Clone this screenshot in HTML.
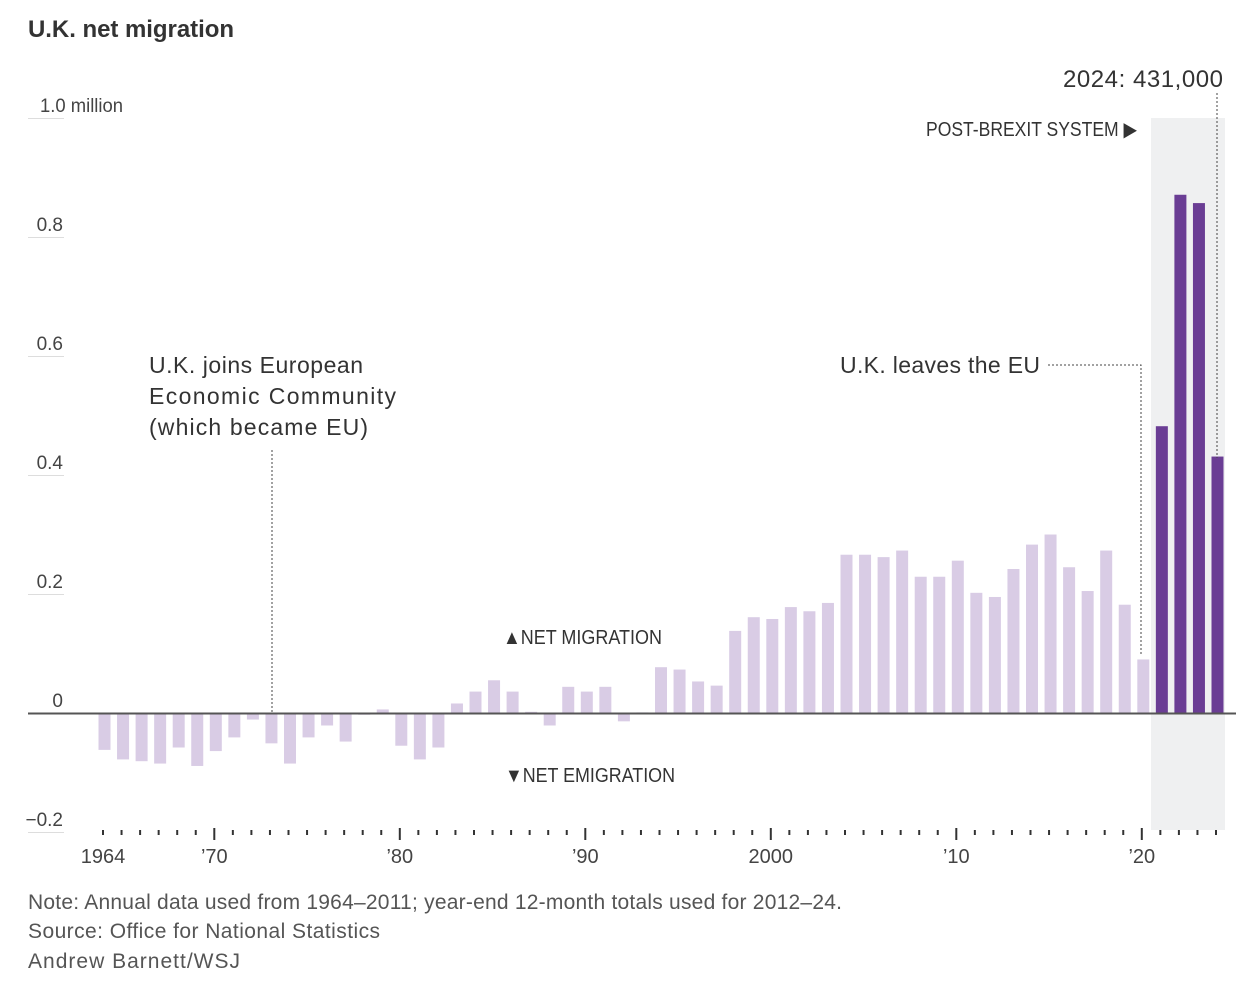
<!DOCTYPE html>
<html><head><meta charset="utf-8"><style>
body{margin:0;background:#fff;}
svg{display:block;font-family:"Liberation Sans",sans-serif;}
</style></head><body>
<svg id="c" width="1236" height="982" viewBox="0 0 1236 982">
<rect width="1236" height="982" fill="#fff"/>
<text x="28" y="37" font-size="24" font-weight="bold" fill="#333" textLength="206">U.K. net migration</text>
<rect x="1151" y="118" width="74" height="712" fill="#eff0f1"/>
<g id="yaxis"></g>
<g id="bars"></g>
<g id="xaxis"></g>
<line x1="28" y1="713.5" x2="1236" y2="713.5" stroke="#555" stroke-width="2"/>
<line x1="272" y1="450" x2="272" y2="713" stroke="#444" stroke-width="1" stroke-dasharray="2,2"/>
<text font-size="23" fill="#333"><tspan x="149" y="373" textLength="214">U.K. joins European</tspan><tspan x="149" y="404" textLength="247">Economic Community</tspan><tspan x="149" y="435" textLength="219">(which became EU)</tspan></text>
<text x="840" y="373" font-size="23" fill="#333" textLength="200">U.K. leaves the EU</text>
<polyline points="1048,365 1141,365 1141,655" fill="none" stroke="#444" stroke-width="1" stroke-dasharray="2,2"/>
<text x="926" y="136" font-size="20" fill="#333" textLength="211" lengthAdjust="spacingAndGlyphs">POST-BREXIT SYSTEM ▶</text>
<text x="1063" y="87" font-size="24" fill="#333" textLength="160">2024: 431,000</text>
<line x1="1217" y1="93" x2="1217" y2="458" stroke="#444" stroke-width="1" stroke-dasharray="2,2"/>
<text x="503" y="644" font-size="20" fill="#333" textLength="159" lengthAdjust="spacingAndGlyphs">▲NET MIGRATION</text>
<text x="505" y="782" font-size="20" fill="#333" textLength="170" lengthAdjust="spacingAndGlyphs">▼NET EMIGRATION</text>
<g font-size="21" fill="#555">
<text x="28" y="909" textLength="814">Note: Annual data used from 1964–2011; year-end 12-month totals used for 2012–24.</text>
<text x="28" y="938" textLength="352">Source: Office for National Statistics</text>
<text x="28" y="968" textLength="212">Andrew Barnett/WSJ</text>
</g>
</svg>
<script>
const startYear = 1964;
const values = [-0.062,-0.078,-0.081,-0.085,-0.058,-0.089,-0.064,-0.041,-0.011,-0.051,-0.085,-0.041,-0.021,-0.048,-0.003,0.006,-0.055,-0.078,-0.058,0.016,0.036,0.055,0.036,0.002,-0.021,0.044,0.036,0.044,-0.014,0.001,0.077,0.073,0.053,0.046,0.138,0.161,0.158,0.178,0.171,0.185,0.266,0.266,0.262,0.273,0.229,0.229,0.256,0.202,0.195,0.242,0.283,0.300,0.245,0.205,0.273,0.182,0.090,0.482,0.871,0.857,0.431];
const yTicks = [-0.2,0,0.2,0.4,0.6,0.8,1.0];
const yTickLabels = ["−0.2","0","0.2","0.4","0.6","0.8","1.0 million"];
const xLabelYears = [1964,1970,1980,1990,2000,2010,2020];
const xLabels = ["1964","’70","’80","’90","2000","’10","’20"];
const postBrexitStart = 2021;

const NS='http://www.w3.org/2000/svg';
const x = yr => 103 + (yr - 1964) * 18.55;
const y = v => 713 - v * 595;
function mk(tag, attrs, parent){const e=document.createElementNS(NS,tag);for(const k in attrs)e.setAttribute(k,attrs[k]);parent.appendChild(e);return e;}
const gy=document.getElementById('yaxis'), gb=document.getElementById('bars'), gx=document.getElementById('xaxis');
yTicks.forEach((v,i)=>{
  if(v!==0){const l=mk('line',{x1:28,x2:64,y1:y(v)+0.5,y2:y(v)+0.5,stroke:'#ddd','stroke-width':1},gy);
  
  }
  const lbl=yTickLabels[i];
  const isM=lbl.indexOf('million')>0;
  const t=mk('text',{x:isM?40:63,y:y(v)-6,'font-size':19,fill:'#444','text-anchor':isM?'start':'end'},gy);
  if(isM){t.setAttribute('textLength','83');t.setAttribute('lengthAdjust','spacingAndGlyphs');}
  t.textContent=lbl;
  
  
});
values.forEach((v,i)=>{
  const yr=startYear+i;
  const top=Math.min(y(v),y(0)), h=Math.abs(y(v)-y(0));
  const r=mk('rect',{x:x(yr)-4.5,y:top,width:12,height:Math.max(h,0.5),fill:yr>=postBrexitStart?'#6a3d94':'#d9cce5'},gb);
  
  
  const major=xLabelYears.indexOf(yr)>=0 && yr!==1964;
  const tk=mk('line',{x1:x(yr),x2:x(yr),y1:major?828:830,y2:major?840:835,stroke:'#333','stroke-width':2},gx);
  
  
});
xLabelYears.forEach((yr,i)=>{
  const t=mk('text',{x:x(yr),y:863,'font-size':20,fill:'#444','text-anchor':'middle'},gx);
  t.textContent=xLabels[i];
  
  
});
</script>
</body></html>
